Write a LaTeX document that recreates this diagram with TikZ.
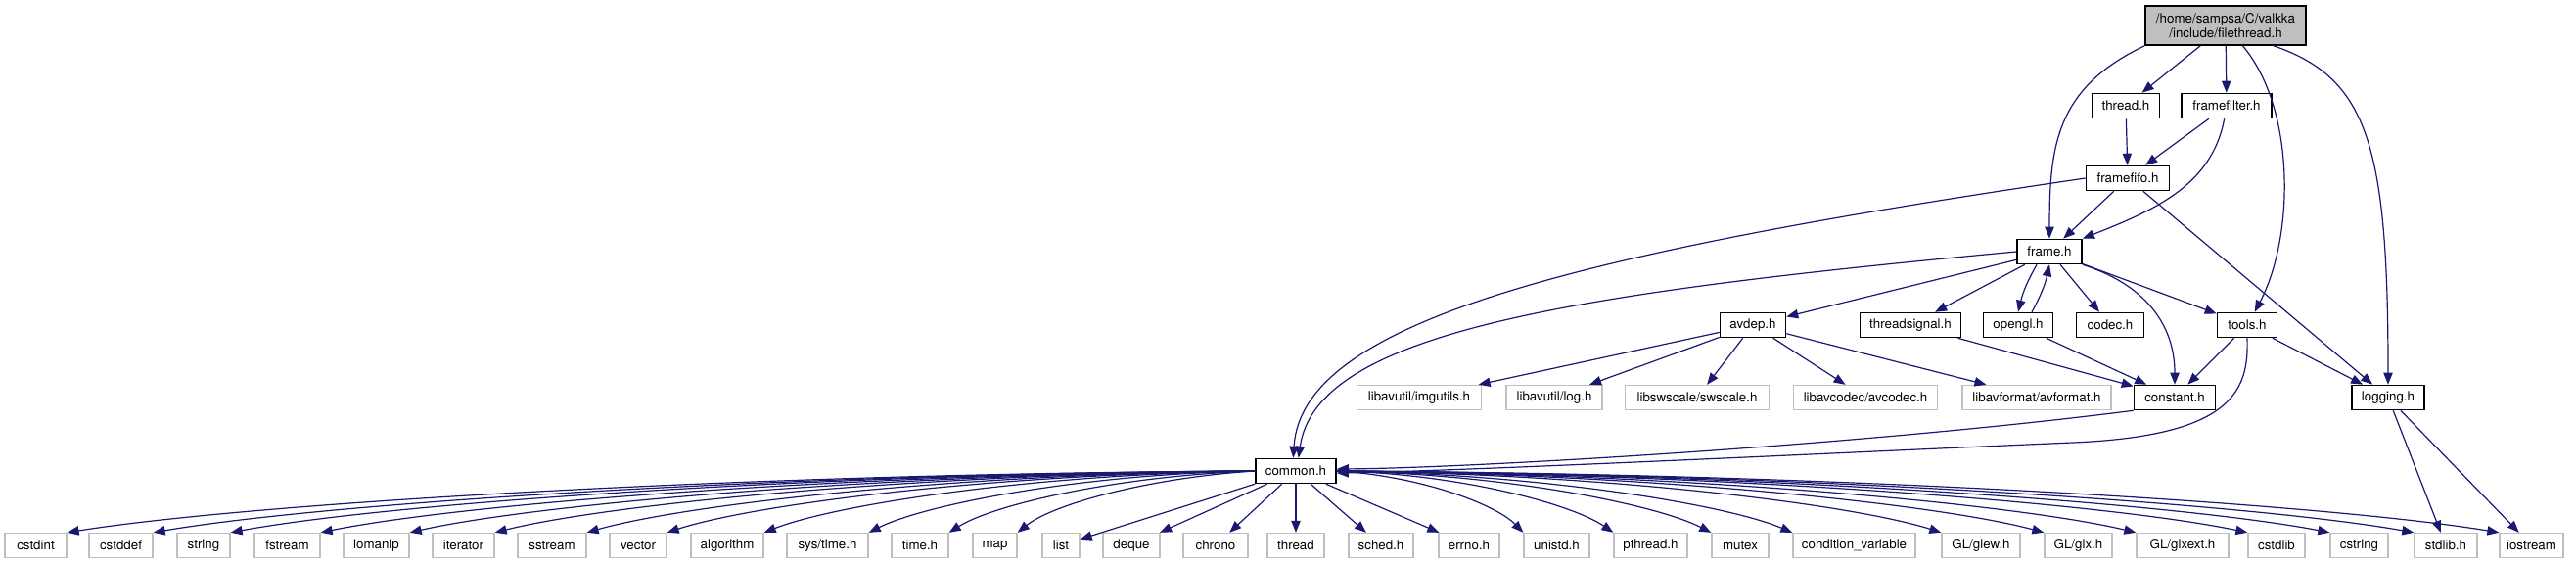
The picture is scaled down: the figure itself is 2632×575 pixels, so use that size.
\documentclass[tikz,border=0pt]{standalone}
\usepackage{fontspec}
\setmainfont{TeX Gyre Heros}
\usetikzlibrary{arrows.meta}
\definecolor{edgeblue}{HTML}{191970}
\definecolor{boxgray}{HTML}{BFBFBF}

\begin{document}
\begin{tikzpicture}[x=0.75pt,y=-0.75pt,every node/.style={font=\fontsize{10}{12}\selectfont},
  hnode/.style={draw=black,line width=1.2pt,fill=white,inner sep=0pt,minimum height=18.75pt,minimum width=#1*0.75pt},
  snode/.style={draw=boxgray,line width=1pt,fill=white,inner sep=0pt,minimum height=18.75pt,minimum width=#1*0.75pt},
  dep/.style={draw=edgeblue,line width=0.9pt,-{Triangle[length=9pt,width=7pt]}}]
\useasboundingbox (0,0) rectangle (2632,575);
% headers of the project
\node[hnode=164,fill=boxgray,minimum height=30pt,align=center,font=\fontsize{10}{11}\selectfont] (filethread) at (2274,26) {/home/sampsa/C/valkka\\/include/filethread.h};
\node[hnode=69] (thread) at (2172,108) {thread.h};
\node[hnode=92] (framefilter) at (2275,108) {framefilter.h};
\node[hnode=85] (framefifo) at (2174,182) {framefifo.h};
\node[hnode=66] (frame) at (2094,257) {frame.h};
\node[hnode=67] (avdep) at (1791,332) {avdep.h};
\node[hnode=103] (threadsignal) at (1952,332) {threadsignal.h};
\node[hnode=71] (opengl) at (2062,332) {opengl.h};
\node[hnode=69] (codec) at (2156,332) {codec.h};
\node[hnode=61] (tools) at (2296,332) {tools.h};
\node[hnode=83] (constant) at (2222,406) {constant.h};
\node[hnode=74] (logging) at (2440,406) {logging.h};
\node[hnode=82] (common) at (1324,481) {common.h};
% libav headers
\node[snode=127] (imgutils) at (1450,406) {libavutil/imgutils.h};
\node[snode=98] (avlog) at (1588,406) {libavutil/log.h};
\node[snode=147] (swscale) at (1734,406) {libswscale/swscale.h};
\node[snode=147] (avcodec) at (1906,406) {libavcodec/avcodec.h};
\node[snode=152] (avformat) at (2081,406) {libavformat/avformat.h};
% system headers
\node[snode=63] (cstdint) at (36.5,557) {cstdint};
\node[snode=65] (cstddef) at (123.5,557) {cstddef};
\node[snode=54] (string) at (208,557) {string};
\node[snode=67] (fstream) at (293.5,557) {fstream};
\node[snode=67] (iomanip) at (384.5,557) {iomanip};
\node[snode=63] (iterator) at (473.5,557) {iterator};
\node[snode=70] (sstream) at (564,557) {sstream};
\node[snode=58] (vector) at (652,557) {vector};
\node[snode=74] (algorithm) at (743,557) {algorithm};
\node[snode=83] (systime) at (845.5,557) {sys/time.h};
\node[snode=58] (time) at (940,557) {time.h};
\node[snode=45] (map) at (1016.5,557) {map};
\node[snode=38] (list) at (1084,557) {list};
\node[snode=58] (deque) at (1156,557) {deque};
\node[snode=66] (chrono) at (1242,557) {chrono};
\node[snode=58] (stdthread) at (1324,557) {thread};
\node[snode=66] (sched) at (1411,557) {sched.h};
\node[snode=62] (errno) at (1501,557) {errno.h};
\node[snode=67] (unistd) at (1590.5,557) {unistd.h};
\node[snode=75] (pthread) at (1686.5,557) {pthread.h};
\node[snode=58] (mutex) at (1778,557) {mutex};
\node[snode=125] (condvar) at (1894.5,557) {condition\_variable};
\node[snode=80] (glew) at (2024,557) {GL/glew.h};
\node[snode=69] (glx) at (2123.5,557) {GL/glx.h};
\node[snode=94] (glxext) at (2230,557) {GL/glxext.h};
\node[snode=58] (cstdlib) at (2326,557) {cstdlib};
\node[snode=59] (cstring) at (2410.5,557) {cstring};
\node[snode=64] (stdlib) at (2499,557) {stdlib.h};
\node[snode=65] (iostream) at (2586.5,557) {iostream};
% includes of filethread.h
\draw[dep] (filethread) -- (thread);
\draw[dep] (filethread) -- (framefilter);
\draw[dep] (filethread.south west) .. controls (2100,90) and (2094,150) .. (frame.north);
\draw[dep] (filethread.-50) .. controls (2345,110) and (2345,240) .. (tools.60);
\draw[dep] (filethread.-23) .. controls (2420,80) and (2440,150) .. (logging.north);
\draw[dep] (thread) -- (framefifo);
\draw[dep] (framefilter) -- (framefifo);
\draw[dep] (framefilter.-100) .. controls (2260,190) and (2200,215) .. (frame.north east);
\draw[dep] (framefifo) -- (frame);
\draw[dep] (framefifo) -- (logging);
\draw[dep] (framefifo.west) .. controls (1600,260) and (1330,330) .. ([xshift=-2pt]common.north);
% includes of frame.h
\draw[dep] (frame.west) .. controls (1600,300) and (1345,340) .. ([xshift=2pt]common.north);
\draw[dep] (frame) -- (avdep);
\draw[dep] (frame) -- (threadsignal);
\draw[dep] ([xshift=-9.75pt]frame.south) to[bend right=8] (opengl.north);
\draw[dep] ([xshift=10.5pt]opengl.north) to[bend right=8] (frame.south);
\draw[dep] (frame) -- (codec);
\draw[dep] (frame) -- (tools);
\draw[dep] (frame.south east) .. controls (2190,290) and (2222,330) .. (constant.north);
\draw[dep] (threadsignal) -- (constant);
\draw[dep] (opengl) -- (constant);
\draw[dep] (tools) -- (constant);
\draw[dep] (tools) -- (logging);
\draw[dep] (tools.south) .. controls (2298,400) and (2280,445) .. (2118,452) .. controls (1950,459) and (1500,481) .. ([yshift=-1.5pt]common.east);
\draw[dep] (constant.south west) .. controls (1900,455) and (1500,478) .. ([yshift=1.5pt]common.east);
\draw[dep] (logging) -- (stdlib);
\draw[dep] (logging) -- (iostream);
% includes of avdep.h
\draw[dep] (avdep) -- (imgutils);
\draw[dep] (avdep) -- (avlog);
\draw[dep] (avdep) -- (swscale);
\draw[dep] (avdep) -- (avcodec);
\draw[dep] (avdep) -- (avformat);
% includes of common.h
\draw[dep] (common.west) .. controls (736,484) and (250,515) .. (cstdint.north east);
\draw[dep] (common.west) .. controls (776,484) and (325,515) .. (cstddef.north east);
\draw[dep] (common.west) .. controls (811,484) and (392,515) .. (string.north east);
\draw[dep] (common.west) .. controls (853,484) and (470,515) .. (fstream.north east);
\draw[dep] (common.west) .. controls (894,484) and (548,515) .. (iomanip.north east);
\draw[dep] (common.west) .. controls (933,484) and (622,515) .. (iterator.north east);
\draw[dep] (common.west) .. controls (975,484) and (702,515) .. (sstream.north east);
\draw[dep] (common.west) .. controls (1012,484) and (771,515) .. (vector.north east);
\draw[dep] (common.west) .. controls (1057,484) and (855,515) .. (algorithm.north east);
\draw[dep] (common.west) .. controls (1105,484) and (946,515) .. (systime.north east);
\draw[dep] (common.west) .. controls (1142,486) and (1016,515) .. (time.north east);
\draw[dep] (common.west) .. controls (1173,488) and (1076,515) .. (map.north east);
\draw[dep] (common) -- (list);
\draw[dep] (common) -- (deque);
\draw[dep] (common) -- (chrono);
\draw[dep] (common) -- (stdthread);
\draw[dep] (common) -- (sched);
\draw[dep] (common) -- (errno);
\draw[dep] (common.east) .. controls (1451,486) and (1528,515) .. (unistd.north west);
\draw[dep] (common.east) .. controls (1493,484) and (1606,515) .. (pthread.north west);
\draw[dep] (common.east) .. controls (1538,484) and (1691,515) .. (mutex.north west);
\draw[dep] (common.east) .. controls (1575,484) and (1762,515) .. (condvar.north west);
\draw[dep] (common.east) .. controls (1644,484) and (1891,515) .. (glew.north west);
\draw[dep] (common.east) .. controls (1691,484) and (1980,515) .. (glx.north west);
\draw[dep] (common.east) .. controls (1733,484) and (2060,515) .. (glxext.north west);
\draw[dep] (common.east) .. controls (1784,484) and (2157,515) .. (cstdlib.north west);
\draw[dep] (common.east) .. controls (1822,484) and (2229,515) .. (cstring.north west);
\draw[dep] (common.east) .. controls (1861,484) and (2302,515) .. (stdlib.north west);
\draw[dep] (common.east) .. controls (1900,484) and (2376,515) .. (iostream.north west);
\end{tikzpicture}
\end{document}
